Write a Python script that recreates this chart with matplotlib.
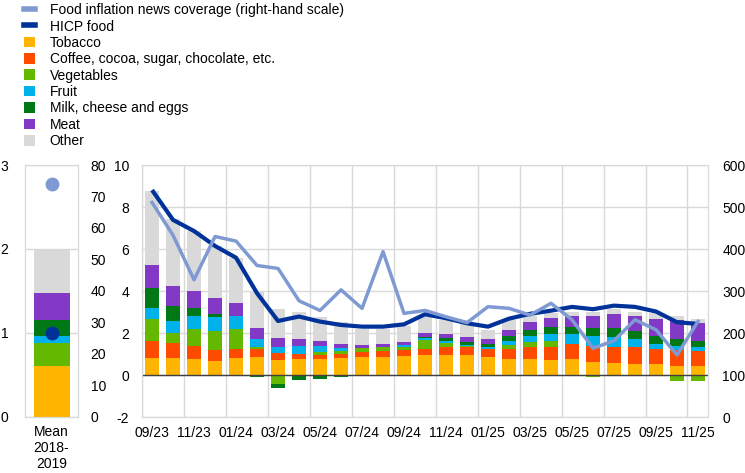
import numpy as np
import matplotlib
matplotlib.use("Agg")
import matplotlib.pyplot as plt
from matplotlib.patches import Patch
from matplotlib.lines import Line2D

plt.rcParams["font.family"] = ["Liberation Sans", "DejaVu Sans"]
plt.rcParams["font.size"] = 10
plt.rcParams["axes.unicode_minus"] = False

months = ["09/23", "10/23", "11/23", "12/23", "01/24", "02/24", "03/24", "04/24", "05/24",
          "06/24", "07/24", "08/24", "09/24", "10/24", "11/24", "12/24", "01/25", "02/25",
          "03/25", "04/25", "05/25", "06/25", "07/25", "08/25", "09/25", "10/25", "11/25"]

tobacco = [0.82, 0.82, 0.78, 0.68, 0.82, 0.87, 0.73, 0.78, 0.78, 0.82, 0.87, 0.87, 0.92, 0.97,
           0.97, 0.97, 0.87, 0.78, 0.78, 0.73, 0.78, 0.63, 0.59, 0.54, 0.54, 0.44, 0.44]
coffee = [0.81, 0.69, 0.63, 0.54, 0.43, 0.38, 0.33, 0.23, 0.19, 0.19, 0.24, 0.29, 0.30, 0.28,
          0.35, 0.35, 0.38, 0.47, 0.54, 0.62, 0.71, 0.76, 0.76, 0.79, 0.71, 0.76, 0.72]
vegetables = [1.05, 0.50, 0.79, 0.89, 0.95, 0.07, -0.41, 0.0, 0.14, 0.15, 0.19, 0.16, 0.10, 0.43,
              0.22, 0.06, 0.0, 0.19, 0.26, 0.28, 0.0, -0.08, 0.0, 0.0, 0.0, -0.30, -0.30]
fruit = [0.52, 0.57, 0.64, 0.68, 0.64, 0.41, 0.29, 0.38, 0.28, 0.14, 0.0, 0.0, 0.12, 0.09,
         0.09, 0.06, 0.07, 0.19, 0.29, 0.34, 0.48, 0.48, 0.47, 0.40, 0.24, 0.19, 0.19]
milk = [0.97, 0.73, 0.38, 0.14, 0.0, -0.08, -0.19, -0.22, -0.17, -0.11, -0.06, 0.0, 0.0, 0.05,
        0.16, 0.14, 0.17, 0.24, 0.29, 0.33, 0.34, 0.38, 0.43, 0.38, 0.38, 0.34, 0.28]
meat = [1.08, 0.94, 0.81, 0.72, 0.60, 0.52, 0.42, 0.34, 0.24, 0.19, 0.14, 0.17, 0.14, 0.19,
        0.19, 0.24, 0.24, 0.29, 0.38, 0.43, 0.51, 0.57, 0.67, 0.71, 0.81, 0.90, 0.87]
other = [3.51, 3.17, 2.83, 2.50, 2.15, 1.76, 1.38, 1.28, 1.16, 1.03, 0.75, 0.70, 0.78, 0.81,
         0.65, 0.65, 0.43, 0.47, 0.28, 0.22, 0.21, 0.21, 0.25, 0.21, 0.30, 0.19, 0.16]

hicp_food = [8.81, 7.39, 6.86, 6.15, 5.59, 3.90, 2.58, 2.79, 2.55, 2.39, 2.31, 2.31, 2.42, 2.90,
             2.71, 2.47, 2.31, 2.69, 2.92, 3.07, 3.25, 3.14, 3.31, 3.25, 3.03, 2.52, 2.44]
news = [511, 433, 327, 430, 419, 361, 354, 277, 254, 303, 259, 394, 247, 254, 239, 225, 263,
        259, 243, 271, 232, 164, 182, 232, 208, 148, 228]

# mean 2018-2019 panel
mean_parts = [0.60, 0.01, 0.27, 0.08, 0.19, 0.32, 0.52]
mean_hicp = 1.0
mean_news = 74

names = ["Tobacco", "Coffee, cocoa, sugar, chocolate, etc.", "Vegetables", "Fruit",
         "Milk, cheese and eggs", "Meat", "Other"]
colors = ["#ffb400", "#ff4b00", "#65b800", "#00b1ea", "#007816", "#8139c6", "#d9d9d9"]
dark_blue = "#003299"
light_blue = "#7f9ad2"
grid_col = "#d9d9d9"

series = [tobacco, coffee, vegetables, fruit, milk, meat, other]

fig = plt.figure(figsize=(7.45, 4.73), dpi=100)

# main panel
ax = fig.add_axes([0.190, 0.118, 0.761, 0.533])
x = np.arange(len(months))
pos = np.zeros(len(months))
neg = np.zeros(len(months))
for vals, c in zip(series, colors):
    v = np.array(vals)
    b = np.where(v >= 0, pos, neg)
    ax.bar(x, v, bottom=b, width=0.68, color=c, zorder=2)
    pos = pos + np.where(v >= 0, v, 0)
    neg = neg + np.where(v < 0, v, 0)
ax.axhline(0, color="#404040", lw=1, zorder=3)
ax.plot(x, hicp_food, color=dark_blue, lw=3, zorder=4, solid_capstyle="butt")
ax.set_ylim(-2, 10)
ax.set_yticks(range(-2, 11, 2))
ax.set_xlim(-0.5, len(months) - 0.5)
ax.set_xticks(x[::2])
ax.set_xticklabels(months[::2])
ax.set_xticks(np.arange(-0.5, len(months), 2), minor=True)
ax.grid(True, which="minor", axis="x", color=grid_col, lw=1, zorder=0)
ax.grid(True, which="major", axis="y", color=grid_col, lw=1, zorder=0)
ax.tick_params(which="both", length=0)
ax.tick_params(axis="y", pad=9)
ax.tick_params(axis="x", pad=6)
for s in ax.spines.values():
    s.set_color(grid_col)

ax2 = ax.twinx()
ax2.plot(x, news, color=light_blue, lw=2.5, zorder=5)
ax2.set_ylim(0, 600)
ax2.set_yticks(range(0, 601, 100))
ax2.tick_params(length=0, pad=10)
for s in ax2.spines.values():
    s.set_color(grid_col)

# mean panel
mx = fig.add_axes([0.0336, 0.119, 0.0711, 0.532])
bot = 0
for v, c in zip(mean_parts, colors):
    mx.bar(0, v, bottom=bot, width=0.68, color=c, zorder=2)
    bot += v
mx.plot(0, mean_hicp, "o", color=dark_blue, ms=9, zorder=4)
mx.set_xlim(-0.5, 0.5)
mx.set_ylim(0, 3)
mx.set_yticks([0, 1, 2, 3])
mx.set_xticks([0])
mx.set_xticklabels(["Mean\n2018-\n2019"])
mx.grid(True, axis="y", color=grid_col, lw=1, zorder=0)
mx.tick_params(length=0)
mx.tick_params(axis="y", pad=12)
mx.tick_params(axis="x", pad=6)
for s in mx.spines.values():
    s.set_color(grid_col)

mx2 = mx.twinx()
mx2.plot(0, mean_news, "o", color=light_blue, ms=9, zorder=5)
mx2.set_ylim(0, 80)
mx2.set_yticks(range(0, 81, 10))
mx2.tick_params(length=0, pad=9)
for s in mx2.spines.values():
    s.set_color(grid_col)

handles = [Line2D([], [], color=light_blue, lw=4),
           Line2D([], [], color=dark_blue, lw=4)]
handles += [Patch(facecolor=c) for c in colors]
labels = ["Food inflation news coverage (right-hand scale)", "HICP food"] + names
fig.legend(handles, labels, loc="upper left", bbox_to_anchor=(0.025, 1.005), frameon=False,
           handlelength=0.75, handleheight=0.8, handletextpad=1.1, labelspacing=0.17,
           borderaxespad=0)

fig.savefig("out.png", dpi=100)
